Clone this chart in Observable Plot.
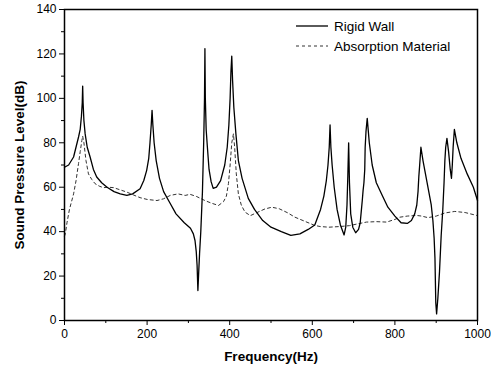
<!DOCTYPE html>
<html>
<head>
<meta charset="utf-8">
<script src="https://cdn.jsdelivr.net/npm/d3@7"></script>
<script src="https://cdn.jsdelivr.net/npm/@observablehq/plot@0.6"></script>
<style>
  body { margin: 0; background: #fff; }
  #wrap { position: relative; width: 491px; height: 372px; font-family: "Liberation Sans", Arial, sans-serif; }
  #legend { position: absolute; left: 296px; top: 16px; font-size: 13.5px; color: #000; }
  #legend div { display: flex; align-items: center; height: 20px; }
  #legend svg { margin-right: 6px; }
</style>
</head>
<body>
<div id="wrap"><div id="legend"></div></div>
<script>
// Rigid Wall (solid)
const rigidHz = [0,10,22,34,38,41,43,44,45,47,50,55,62,70,78,90,103,120,135,151,165,183,192,199,204,207,210,212,214,217,222,230,240,255,270,290,305,312,316,319,321,323,325,327,330,334,337,339,340,341,343,346,350,355,360,368,378,388,394,398,401,403,405,407,410,415,421,430,445,460,480,500,525,548,570,590,606,620,628,634,638,641,643,645,648,653,660,668,677,681,684,686,688,690,693,698,705,712,716,719,721,723,725,727,728,730,733,738,745,755,770,783,800,815,830,840,848,853,856,858,860,863,868,875,882,888,892,895,897,898,899,901,904,908,912,916,919,921,923,926,930,934,937,939,941,944,950,960,975,990,1000];
const rigidDb = [69,70,73.6,82.6,86,92,98,105.5,98,90,84,78,73.6,68,64.6,62,60,58,57,56.3,57,59.3,63,67.6,73,80,88,94.6,88,80,72,64,58,53,48,44,41.5,39,36,31,25,13.5,22,30,40,58,80,100,122.4,100,86,78,68,62.5,59.5,60,63,70,78,88,100,112,119,108,96,84,72,64,55,50,45,42,40,38.3,39,41,43,50,56,63,70,78,88,78,70,60,50,43,38.5,42,52,65,80,62,48,42,39.5,41,44,50,54,58.6,62,68,78,85,91,80,70,62,56,51,47,44,43.7,45,48,52,58,65,70,78,72,65,58,52,45,37,28,18,8,3,10,22,38,50,62,72,78,82,76,68,64,70,78,86,80,73,66,60,54,50,47,45];

// Absorption Material (dashed)
const absorbHz = [0,2,6,12,22,28,34,38,42,44,47,52,58,66,74,84,94,106,119,135,151,167,183,200,224,240,256,275,292,304,320,340,356,373,385,392,397,401,405,409,412,416,421,428,437,450,465,485,502,520,540,558,580,606,619,640,667,690,710,731,755,780,800,812,830,852,865,880,900,921,945,970,998,1000];
const absorbDb = [38,39,44,50,57,63,70.7,76,81,83,80,72,66,63.5,61.6,60.5,59.8,60,59.8,58.8,57.8,56.5,55.3,54.5,54,54.8,56.3,57,56.3,56.8,55.8,54,52.8,51.8,53.5,56,61.7,70,80,84,78,66,57,52,48.8,47.2,48.5,50.2,51,50.3,48.5,46.5,44.8,42.8,42.3,42,42.3,42.7,43.5,44.3,44.5,44.3,45.5,46.5,47,47.3,47,46.3,47,48.4,49.1,48.6,47.3,47.3];

const xMajor = [0,200,400,600,800,1000];
const xMinor = [100,300,500,700,900];
const yMajor = [0,20,40,60,80,100,120,140];
const yMinor = [10,30,50,70,90,110,130];

const rigid = rigidHz.map((f,i) => ({f, db: rigidDb[i]}));
const absorb = absorbHz.map((f,i) => ({f, db: absorbDb[i]}));

const chart = Plot.plot({
  width: 491,
  height: 372,
  marginLeft: 64,
  marginRight: 14,
  marginTop: 9,
  marginBottom: 52,
  style: {fontFamily: "Liberation Sans, Arial, sans-serif", fontSize: "12px", color: "#000", background: "#fff", overflow: "visible"},
  x: {domain: [0, 1000]},
  y: {domain: [0, 140]},
  marks: [
    Plot.line(absorb, {x: "f", y: "db", stroke: "#333", strokeWidth: 1, strokeDasharray: "3,3"}),
    Plot.line(rigid, {x: "f", y: "db", stroke: "#000", strokeWidth: 1.3}),
    Plot.frame({stroke: "#000", strokeWidth: 1.5}),
    Plot.axisX({ticks: xMajor, tickSize: 5, tickPadding: 4, tickFormat: d => String(d), fontSize: 12,
      label: "Frequency(Hz)", labelAnchor: "center", labelArrow: "none", labelOffset: 40}),
    Plot.axisX({ticks: xMinor, tickSize: 3, tickFormat: () => "", label: null}),
    Plot.axisY({ticks: yMajor, tickSize: 5, tickPadding: 3, tickFormat: d => String(d), fontSize: 12,
      label: "Sound Pressure Level(dB)", labelAnchor: "center", labelArrow: "none", labelOffset: 50}),
    Plot.axisY({ticks: yMinor, tickSize: 3, tickFormat: () => "", label: null})
  ]
});
d3.select(chart).selectAll("[aria-label='x-axis label'] text, [aria-label='y-axis label'] text")
  .style("font-size", "13.5px").style("font-weight", "bold");
document.getElementById("wrap").prepend(chart);

// Legend
const legendItems = [
  {name: "Rigid Wall", dash: null, w: 1.3, c: "#000"},
  {name: "Absorption Material", dash: "3,3", w: 1, c: "#333"}
];
const lg = d3.select("#legend");
legendItems.forEach(it => {
  const row = lg.append("div");
  const s = row.append("svg").attr("width", 32).attr("height", 6);
  s.append("line").attr("x1", 0).attr("x2", 32).attr("y1", 3).attr("y2", 3)
    .attr("stroke", it.c).attr("stroke-width", it.w).attr("stroke-dasharray", it.dash);
  row.append("span").text(it.name);
});
</script>
</body>
</html>
